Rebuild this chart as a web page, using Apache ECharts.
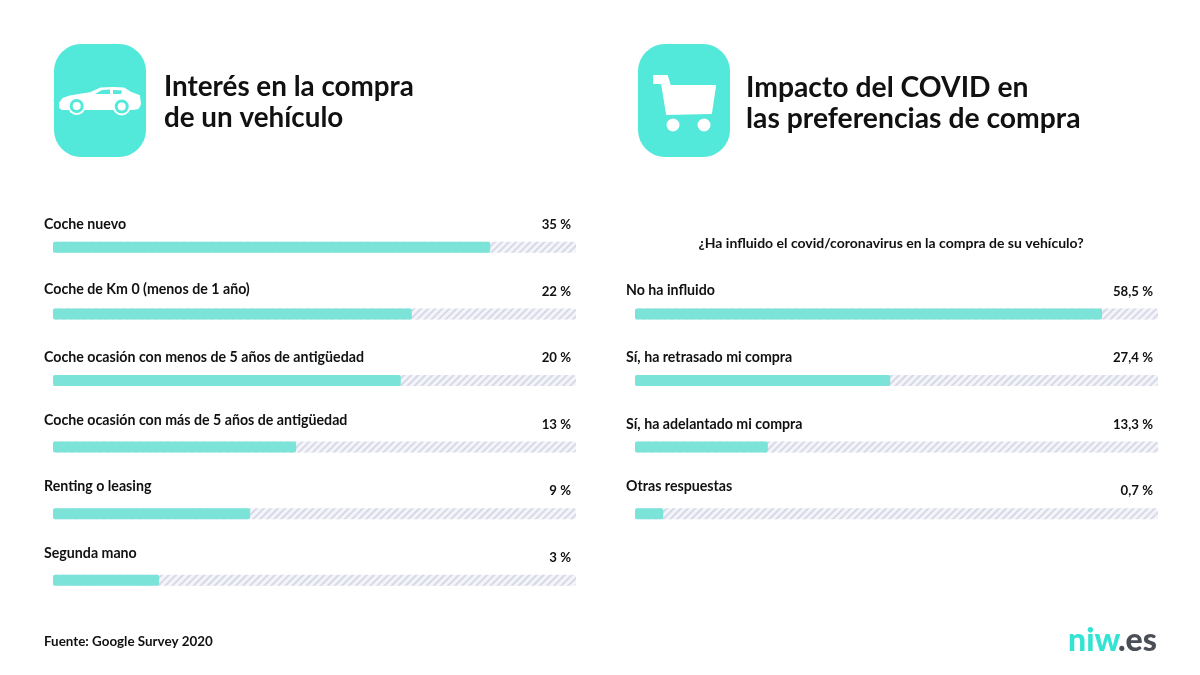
<!DOCTYPE html>
<html><head><meta charset="utf-8">
<style>html,body{margin:0;padding:0;background:#fff}#c{width:1200px;height:675px}</style>
<script src="https://cdn.jsdelivr.net/npm/echarts@6/dist/echarts.min.js"></script>
</head><body><div id="c"></div>
<script>
// Data
const leftCategories = ['Coche nuevo','Coche de Km 0 (menos de 1 año)','Coche ocasión con menos de 5 años de antigüedad','Coche ocasión con más de 5 años de antigüedad','Renting o leasing','Segunda mano'];
const leftLabels = ['35 %','22 %','20 %','13 %','9 %','3 %'];
const leftBarLengths = [83.6,68.6,66.5,46.5,37.7,20.3];
const rightCategories = ['No ha influido','Sí, ha retrasado mi compra','Sí, ha adelantado mi compra','Otras respuestas'];
const rightLabels = ['58,5 %','27,4 %','13,3 %','0,7 %'];
const rightBarLengths = [89.3,48.8,25.4,5.4];
const trackFull = 100;

// Styling
const FONT = 'Lato';
const TEAL = '#7CE3D9', ICON = '#52E8DA', INK = '#111111';
const BAR_H = 11;
const leftNameDy = [-23,-24,-23,-26.5,-27,-27];
const rightNameDy = [-23.5,-23,-23,-27];
const valueDy = -22.5;

function panel(i, cats, labels, lengths, nameDy) {
  const fill = {
    type:'bar', xAxisIndex:i, yAxisIndex:i, barWidth:BAR_H, z:3, silent:true,
    itemStyle:{color:TEAL, borderRadius:2},
    data: lengths.map((v,k)=>({value:v, name:cats[k],
      label:{show:true, position:[-9, BAR_H/2+nameDy[k]], verticalAlign:'middle', align:'left',
        formatter:cats[k], fontFamily:FONT, fontWeight:700, fontSize:14.2, color:INK}}))
  };
  const track = {
    type:'bar', xAxisIndex:i, yAxisIndex:i, barWidth:BAR_H, barGap:'-100%', z:2, silent:true,
    itemStyle:{color:'#F5F5F9', borderRadius:2,
      decal:{symbol:'rect', symbolSize:1, dashArrayX:[1,0], dashArrayY:[2,3], rotation:-Math.PI/4, color:'#D6DAE8'}},
    data: labels.map(l=>({value:trackFull,
      label:{show:true, position:['100%', BAR_H/2+valueDy], offset:[-5,0], verticalAlign:'middle', align:'right',
        formatter:l, fontFamily:FONT, fontWeight:700, fontSize:13.2, color:INK}}))
  };
  return [track, fill];
}

const iconRect = x => ({type:'rect', x:x, y:44, z:1, shape:{x:0,y:0,width:92,height:113,r:27}, style:{fill:ICON}});
const circle = (cx,cy,r,fill) => ({type:'circle', z:3, shape:{cx,cy,r}, style:{fill}});
const poly = (points,fill,sw) => ({type:'polygon', z:2, shape:{points}, style:{fill, stroke:sw?fill:null, lineWidth:sw||0, lineJoin:'round'}});

const graphics = [
  iconRect(54), iconRect(638),
  poly([[60,103],[63,99],[70,96.5],[91,93],[101,88.5],[113,88],[124,88.5],[131,93],[139,96],[140,104],[138,108],[133,109],[62,109],[60,107]],'#fff',2),
  poly([[95,94],[102,90],[110,89.5],[110,94]],ICON),
  poly([[113,90],[122,90.5],[121,94],[113,94]],ICON),
  circle(76.7,106,9,'#fff'), circle(76.7,106,7,ICON), circle(76.7,106,4,'#fff'),
  circle(121.7,106.5,9,'#fff'), circle(121.7,106.5,7,ICON), circle(121.7,106.5,4,'#fff'),
  poly([[654,76],[667,76],[670,86],[715,86],[711,113],[667,114],[662,83],[654,83]],'#fff',2),
  circle(673,125,6.5,'#fff'), circle(704,125,6.5,'#fff'),
];

const titleText = (left,top,text,fontSize,weight,color) => ({
  left, top, text, textStyle:{fontFamily:FONT, fontSize, fontWeight:weight, color, lineHeight:31}, padding:0
});

const chart = echarts.init(document.getElementById('c'), null, {renderer:'canvas'});
chart.setOption({
  animation:false,
  backgroundColor:'#ffffff',
  title:[
    titleText(164,72,'Interés en la compra\nde un vehículo',27.8,700,INK),
    titleText(746,72,'Impacto del COVID en\nlas preferencias de compra',28.3,700,INK),
    {left:891, top:236, textAlign:'center', padding:0, text:'¿Ha influido el covid/coronavirus en la compra de su vehículo?',
      textStyle:{fontFamily:FONT,fontSize:14,fontWeight:700,color:INK}},
    {left:44, top:635, padding:0, text:'Fuente: Google Survey 2020',
      textStyle:{fontFamily:FONT,fontSize:13.4,fontWeight:700,color:INK}},
    {left:1068, top:625, padding:0, text:'niw', textStyle:{fontFamily:FONT,fontSize:32,fontWeight:900,color:'#35E3D3'}},
    {left:1118, top:625, padding:0, text:'.es', textStyle:{fontFamily:FONT,fontSize:32,fontWeight:900,color:'#4A4F57'}}
  ],
  grid:[
    {left:53, width:523, top:214, height:399.6},
    {left:635, width:523, top:280.6, height:266.4}
  ],
  xAxis:[0,1].map(i=>({type:'value', gridIndex:i, min:0, max:trackFull, show:false})),
  yAxis:[
    {type:'category', gridIndex:0, inverse:true, data:leftCategories, show:false},
    {type:'category', gridIndex:1, inverse:true, data:rightCategories, show:false}
  ],
  graphic:{elements:graphics},
  series:[
    ...panel(0,leftCategories,leftLabels,leftBarLengths,leftNameDy),
    ...panel(1,rightCategories,rightLabels,rightBarLengths,rightNameDy)
  ]
});
</script></body></html>
